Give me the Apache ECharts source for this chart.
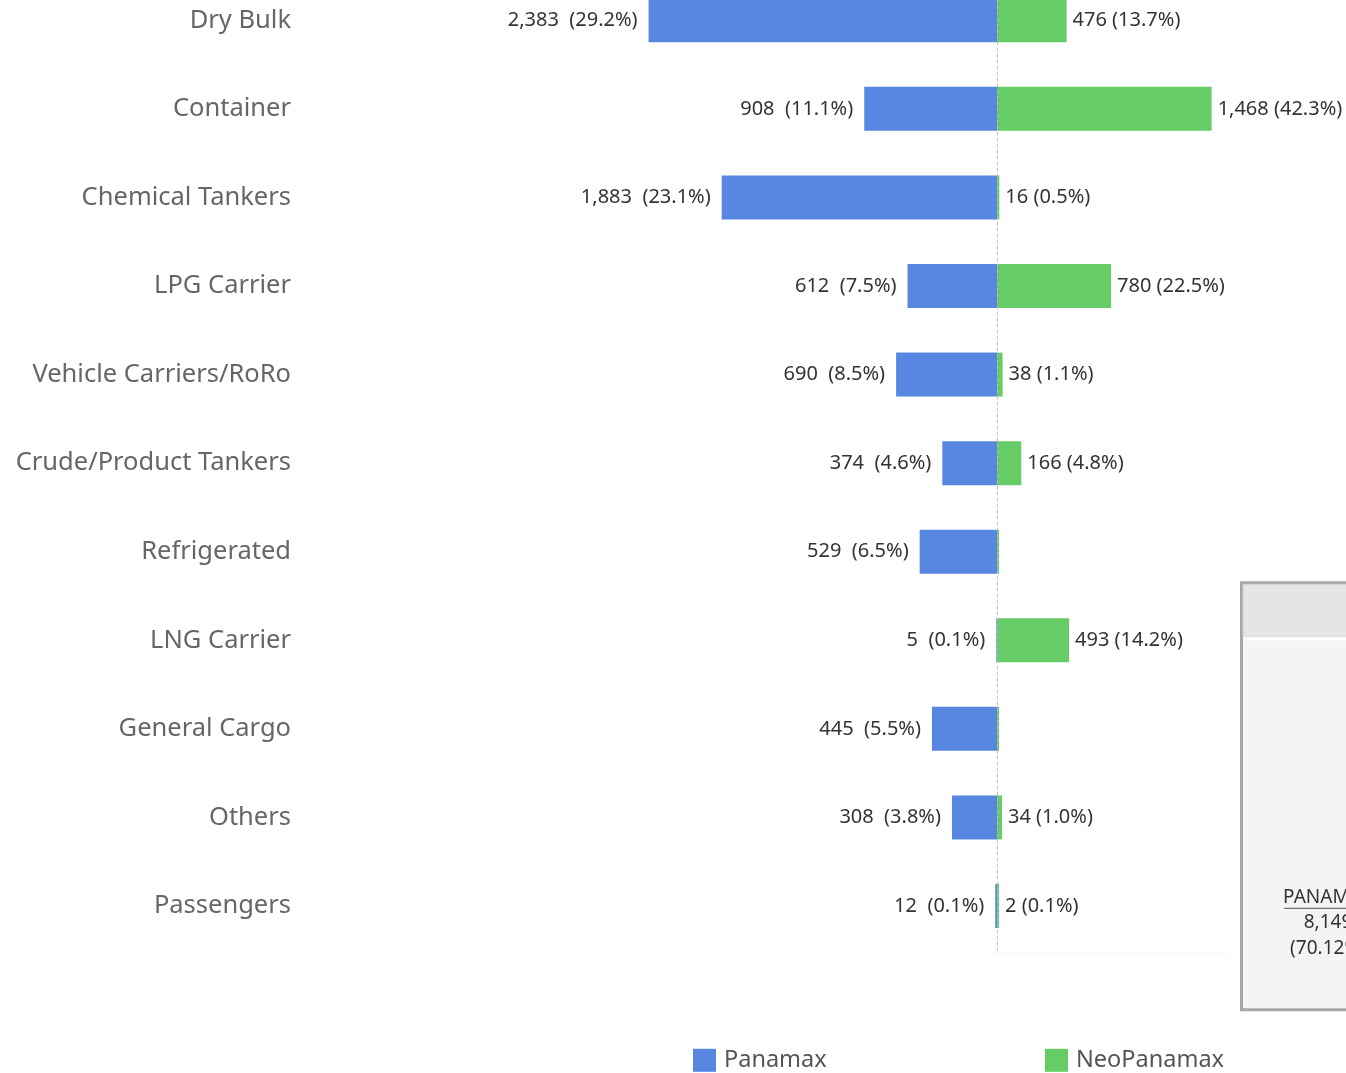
<!DOCTYPE html>
<html><head><meta charset="utf-8">
<script src="https://cdn.jsdelivr.net/npm/echarts@6/dist/echarts.min.js"></script>
<style>html,body{margin:0;padding:0;background:#fff;overflow:hidden;}#c{width:1346px;height:1097.3px;margin-top:-24.3px;}</style>
</head><body><div id="c"></div>
<script>
const categories = ['Dry Bulk','Container','Chemical Tankers','LPG Carrier','Vehicle Carriers/RoRo','Crude/Product Tankers','Refrigerated','LNG Carrier','General Cargo','Others','Passengers'];
const panamax = [2383, 908, 1883, 612, 690, 374, 529, 5, 445, 308, 12];
const neoPanamax = [476, 1468, 16, 780, 38, 166, 0, 493, 0, 34, 2];
const seriesNames = ['Panamax', 'NeoPanamax'];

const FONT = '"Noto Sans", "Open Sans", sans-serif';
const BLUE = '#5787e1', GREEN = '#66cc66';
const OFF = 24.3; // container is shifted up by this many px
const sum = a => a.reduce((s, v) => s + v, 0);
const totP = sum(panamax), totN = sum(neoPanamax);
const fmt = v => v.toLocaleString('en-US');
const pct = (v, t) => (v / t * 100).toFixed(1) + '%';

const chart = echarts.init(document.getElementById('c'));
const legendText = { fontSize: 23.5, color: '#555', fontFamily: FONT, padding: [0, 0, 0, 3] };
chart.setOption({
  animation: false,
  grid: { left: 461, right: 0, top: 0, bottom: 122.7, containLabel: false },
  xAxis: { type: 'value', min: -3666, max: 2387, show: false },
  yAxis: {
    type: 'category', data: categories, inverse: true,
    axisLine: { show: true, lineStyle: { color: '#e0e0e0', type: [3, 3], width: 1 } },
    axisTick: { show: false },
    axisLabel: { margin: 170, fontSize: 25.5, color: '#666', fontFamily: FONT }
  },
  legend: [
    { data: [seriesNames[0]], left: 693, top: 1048 + OFF, padding: 0, itemWidth: 23, itemHeight: 23, icon: 'rect', textStyle: legendText },
    { data: [seriesNames[1]], left: 1045, top: 1048 + OFF, padding: 0, itemWidth: 23, itemHeight: 23, icon: 'rect', textStyle: legendText }
  ],
  series: [
    {
      name: seriesNames[0], type: 'bar', data: panamax.map(v => -v), barWidth: 44, barGap: '-100%',
      itemStyle: { color: BLUE },
      label: { show: true, position: 'left', distance: 11, fontSize: 20, color: '#333', fontFamily: FONT,
        formatter: p => fmt(-p.value) + '  (' + pct(-p.value, totP) + ')' },
      markLine: { silent: true, symbol: 'none', label: { show: false },
        lineStyle: { color: '#bbb', type: [3, 3], width: 1 }, data: [{ xAxis: 0 }] }
    },
    {
      name: seriesNames[1], type: 'bar', data: neoPanamax, barWidth: 44, barMinHeight: 2,
      itemStyle: { color: GREEN },
      label: { show: true, position: 'right', distance: 6, fontSize: 20, color: '#333', fontFamily: FONT,
        formatter: p => p.value ? fmt(p.value) + ' (' + pct(p.value, totN) + ')' : '' }
    }
  ],
  graphic: [
    { type: 'line', shape: { x1: 997, y1: 952 + OFF, x2: 1230, y2: 952 + OFF }, style: { stroke: '#e3e3e3', lineWidth: 1, lineDash: [2, 6] } },
    { type: 'rect', shape: { x: 1241.5, y: 582.5 + OFF, width: 200, height: 427 }, style: { fill: '#f4f4f4', stroke: '#a6a6a6', lineWidth: 3 } },
    { type: 'rect', shape: { x: 1243, y: 584 + OFF, width: 200, height: 53 }, style: { fill: '#e5e5e5', stroke: '#d0d0d0', lineWidth: 1 } },
    { type: 'rect', shape: { x: 1243, y: 637 + OFF, width: 200, height: 3 }, style: { fill: '#ffffff' } },
    { type: 'text', x: 1328, y: 897 + OFF, style: { text: seriesNames[0].toUpperCase(), fill: '#333', font: '19px ' + FONT, textAlign: 'center', textVerticalAlign: 'middle' } },
    { type: 'line', shape: { x1: 1284, y1: 908 + OFF, x2: 1372, y2: 908 + OFF }, style: { stroke: '#555', lineWidth: 1 } },
    { type: 'text', x: 1328, y: 922 + OFF, style: { text: fmt(totP), fill: '#333', font: '19px ' + FONT, textAlign: 'center', textVerticalAlign: 'middle' } },
    { type: 'text', x: 1328, y: 948 + OFF, style: { text: '(' + (totP / (totP + totN) * 100).toFixed(2) + '%)', fill: '#333', font: '19px ' + FONT, textAlign: 'center', textVerticalAlign: 'middle' } }
  ]
});
</script></body></html>
